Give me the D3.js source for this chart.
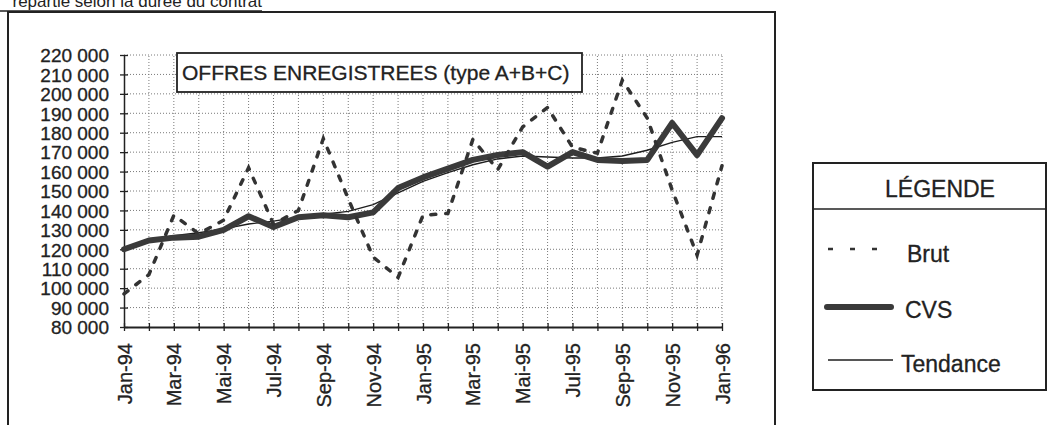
<!DOCTYPE html>
<html>
<head>
<meta charset="utf-8">
<script src="https://cdn.jsdelivr.net/npm/d3@7"></script>
<style>
  body { margin: 0; background: #fff; }
  svg { display: block; font-family: "Liberation Sans", Arial, sans-serif; }
</style>
</head>
<body>
<svg id="chart" width="1048" height="425"></svg>
<script>
// months Jan-94 .. Jan-96
const months = ["Jan-94", "Fév-94", "Mar-94", "Avr-94", "Mai-94", "Juin-94", "Jul-94", "Aoû-94",
  "Sep-94", "Oct-94", "Nov-94", "Déc-94", "Jan-95", "Fév-95", "Mar-95", "Avr-95", "Mai-95",
  "Juin-95", "Jul-95", "Aoû-95", "Sep-95", "Oct-95", "Nov-95", "Déc-95", "Jan-96"];

const brut = [97000, 107000, 137500, 128000, 135000, 162000, 133000, 140000, 177000, 146000,
  116000, 105500, 137500, 138500, 176500, 161000, 183000, 193000, 172500, 169500, 207000,
  187500, 150500, 117000, 163000];

const cvs = [120000, 124500, 126000, 126500, 130000, 137000, 131500, 136500, 137500, 136500,
  139000, 151500, 157000, 161500, 166000, 168500, 170000, 162500, 170000, 166000, 165500,
  166000, 185000, 168500, 187500];

const tendance = [121000, 124500, 127000, 128500, 130500, 133000, 134500, 136500, 138000, 139500,
  143000, 149000, 155000, 159500, 163500, 166500, 168000, 167500, 167000, 167000, 168000,
  171000, 175000, 178000, 178000];

const yTicks = [80000, 90000, 100000, 110000, 120000, 130000, 140000, 150000, 160000, 170000,
  180000, 190000, 200000, 210000, 220000];

const svg = d3.select("#chart");
const ink = "#222";

const x = d3.scalePoint().domain(months).range([124, 722]);
const y = d3.scaleLinear().domain([80000, 220000]).range([327, 55]);
const fr = d3.formatLocale({ decimal: ",", thousands: " ", grouping: [3], currency: ["", " €"] });
const fmt = fr.format(",.0f");

// page frame + caption above it (cut by the page top, as in the scan)
svg.append("text")
  .attr("x", 262).attr("y", 7)
  .attr("text-anchor", "end")
  .attr("font-size", 17)
  .attr("fill", ink)
  .text("répartie selon la durée du contrat");
svg.append("line").attr("x1", 0).attr("x2", 262).attr("y1", 11).attr("y2", 11)
  .attr("stroke", ink).attr("stroke-width", 1.5);
svg.append("path")
  .attr("d", "M8,425V12H775V425")
  .attr("fill", "none").attr("stroke", ink).attr("stroke-width", 2);

// grid
const grid = svg.append("g").attr("stroke", "#7a7a7a").attr("stroke-dasharray", "1,2").attr("stroke-width", 1);
grid.selectAll("line.h").data(yTicks.slice(1)).join("line")
  .attr("class", "h")
  .attr("x1", x(months[0])).attr("x2", x(months[months.length - 1]))
  .attr("y1", d => y(d)).attr("y2", d => y(d));
grid.selectAll("line.v").data(months.slice(1)).join("line")
  .attr("class", "v")
  .attr("x1", d => x(d)).attr("x2", d => x(d))
  .attr("y1", y(80000)).attr("y2", y(220000));

// y axis
const yAxis = svg.append("g")
  .attr("transform", "translate(" + x(months[0]) + ",0)")
  .call(d3.axisLeft(y).tickValues(yTicks).tickFormat(fmt).tickSize(0).tickPadding(15))
  .attr("font-family", null).attr("font-size", 19);
yAxis.select(".domain").attr("stroke", ink).attr("stroke-width", 1.5);
yAxis.selectAll(".tick line").attr("x1", -4).attr("x2", 4).attr("stroke", ink).attr("stroke-width", 1.3);
yAxis.selectAll(".tick text").attr("fill", ink).attr("dy", "0.36em")
  .attr("stroke", ink).attr("stroke-width", 0.3);

// x axis
const xAxis = svg.append("g")
  .attr("transform", "translate(0," + y(80000) + ")")
  .call(d3.axisBottom(x).tickSize(0).tickFormat((d, i) => i % 2 === 0 ? d : ""))
  .attr("font-family", null).attr("font-size", 20);
xAxis.select(".domain").attr("stroke", ink).attr("stroke-width", 1.8);
xAxis.selectAll(".tick line").attr("y1", -4).attr("y2", 4).attr("stroke", ink).attr("stroke-width", 1.3);
xAxis.selectAll(".tick text")
  .attr("fill", ink)
  .attr("stroke", ink).attr("stroke-width", 0.3)
  .attr("transform", "rotate(-90)")
  .attr("text-anchor", "end")
  .attr("x", -16).attr("y", 7).attr("dy", 0);

// title box
svg.append("rect")
  .attr("x", 177).attr("y", 53).attr("width", 405).attr("height", 39)
  .attr("fill", "#fff").attr("stroke", ink).attr("stroke-width", 1.8);
svg.append("text")
  .attr("x", 182).attr("y", 80)
  .attr("font-size", 21).attr("fill", ink)
  .attr("stroke", ink).attr("stroke-width", 0.3)
  .text("OFFRES ENREGISTREES (type A+B+C)");

// series
const line = d3.line().x((d, i) => x(months[i])).y(d => y(d));

svg.append("path").datum(tendance)
  .attr("d", line)
  .attr("fill", "none").attr("stroke", "#1e1e1e").attr("stroke-width", 1.4);

svg.append("path").datum(cvs)
  .attr("d", line)
  .attr("fill", "none").attr("stroke", "#3a3a3a").attr("stroke-width", 6)
  .attr("stroke-linejoin", "round").attr("stroke-linecap", "round");

svg.append("path").datum(brut)
  .attr("d", line)
  .attr("fill", "none").attr("stroke", "#333").attr("stroke-width", 3.5)
  .attr("stroke-dasharray", "5,10").attr("stroke-linecap", "round");

// legend
const lg = svg.append("g");
lg.append("rect")
  .attr("x", 813).attr("y", 163).attr("width", 233).attr("height", 227)
  .attr("fill", "#fff").attr("stroke", ink).attr("stroke-width", 2);
lg.append("line").attr("x1", 813).attr("x2", 1046).attr("y1", 209).attr("y2", 209)
  .attr("stroke", ink).attr("stroke-width", 1.5);

const lgText = [
  { t: "LÉGENDE", x: 940, y: 197, anchor: "middle" },
  { t: "Brut", x: 907, y: 262, anchor: "start" },
  { t: "CVS", x: 905, y: 318, anchor: "start" },
  { t: "Tendance", x: 901, y: 372, anchor: "start" }
];
lg.selectAll("text").data(lgText).join("text")
  .attr("x", d => d.x).attr("y", d => d.y)
  .attr("text-anchor", d => d.anchor)
  .attr("font-size", 23).attr("fill", ink)
  .attr("stroke", ink).attr("stroke-width", 0.3)
  .text(d => d.t);

lg.append("line").attr("x1", 828).attr("x2", 878).attr("y1", 249).attr("y2", 249)
  .attr("stroke", "#333").attr("stroke-width", 2.5).attr("stroke-dasharray", "5,17");
lg.append("line").attr("x1", 827).attr("x2", 891).attr("y1", 307).attr("y2", 307)
  .attr("stroke", "#3a3a3a").attr("stroke-width", 6).attr("stroke-linecap", "round");
lg.append("line").attr("x1", 828).attr("x2", 893).attr("y1", 360).attr("y2", 360)
  .attr("stroke", "#1e1e1e").attr("stroke-width", 1.5);
</script>
</body>
</html>
